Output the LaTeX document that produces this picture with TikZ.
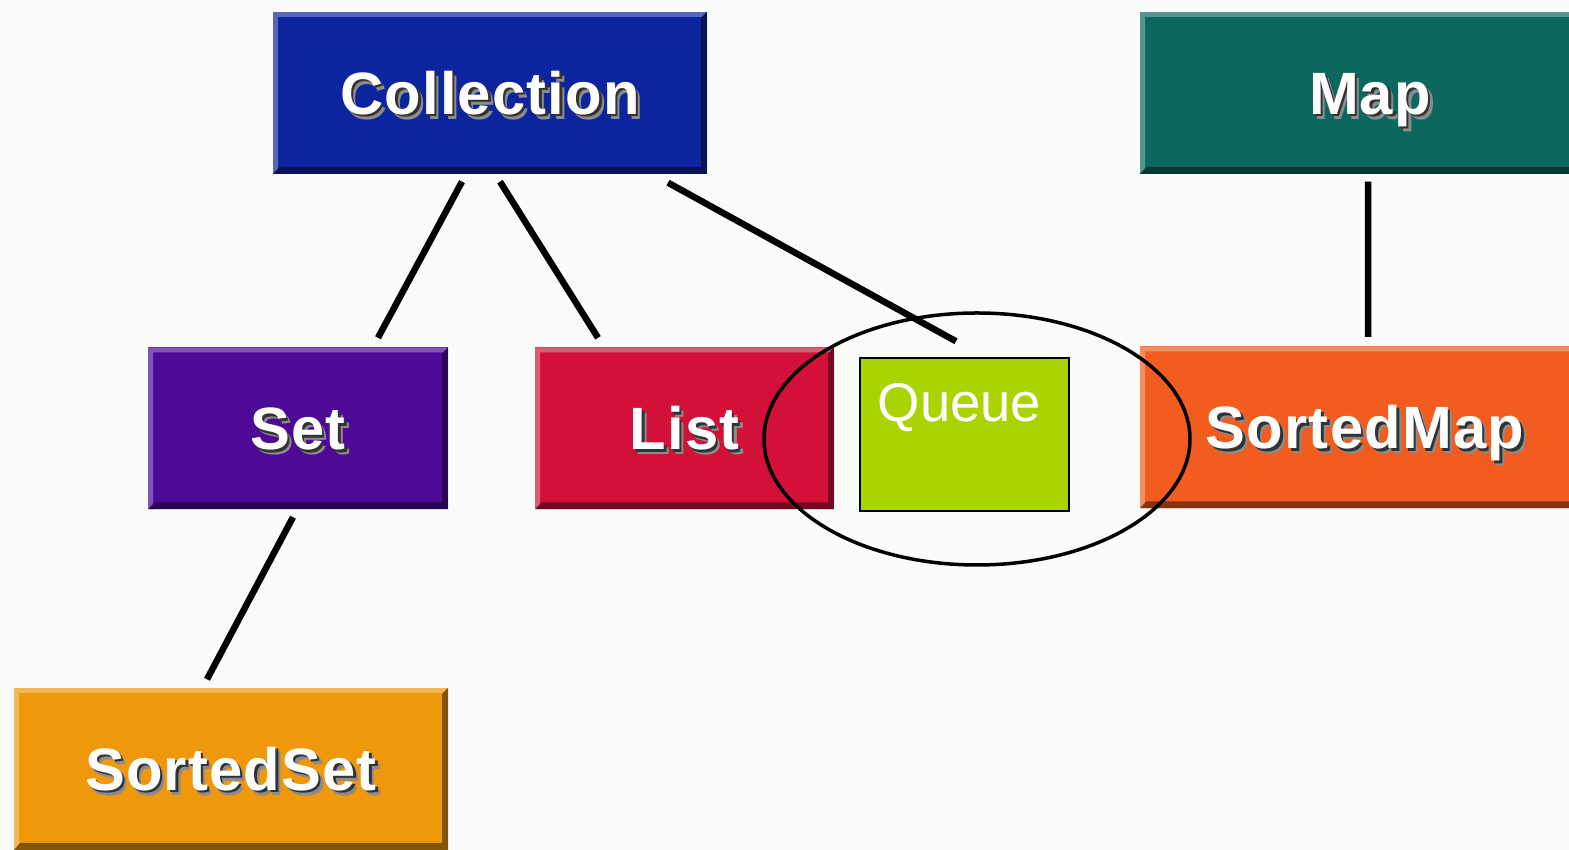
\documentclass[tikz,border=0pt]{standalone}
\usepackage{fontspec}
\setmainfont{Liberation Sans}[BoldFeatures={LetterSpace=2}]

\definecolor{paper}{RGB}{250,252,249}
\definecolor{collblue}{RGB}{12,36,158}
\definecolor{mapteal}{RGB}{12,104,94}
\definecolor{setpurple}{RGB}{76,10,150}
\definecolor{listred}{RGB}{210,16,56}
\definecolor{queuelime}{RGB}{170,212,0}
\definecolor{smaporange}{RGB}{242,92,30}
\definecolor{ssetamber}{RGB}{240,152,12}

% white label with a dark shadow
\newcommand{\glowtext}[1]{%
  \makebox[0pt][l]{\hspace{1.3pt}\raisebox{-1.3pt}{\color{black!45}#1}}%
  \makebox[0pt][l]{\hspace{0.7pt}\raisebox{-0.7pt}{\color{black!80}#1}}%
  {\color{white}#1}}

\tikzset{
  ifacebox/.style={rectangle, fill=#1, minimum height=1.62cm, inner sep=0pt,
    font=\bfseries\fontsize{17}{20}\selectfont, text height=0.43cm, text depth=0pt,
    path picture={
      \fill[white,opacity=0.3] (path picture bounding box.south west)
        -- (path picture bounding box.north west) -- (path picture bounding box.north east)
        -- ([shift={(-0.05,-0.05)}]path picture bounding box.north east)
        -- ([shift={(0.05,-0.05)}]path picture bounding box.north west)
        -- ([shift={(0.05,0.05)}]path picture bounding box.south west) -- cycle;
      \fill[black,opacity=0.45] (path picture bounding box.south west)
        -- (path picture bounding box.south east) -- (path picture bounding box.north east)
        -- ([shift={(-0.06,-0.06)}]path picture bounding box.north east)
        -- ([shift={(-0.06,0.07)}]path picture bounding box.south east)
        -- ([shift={(0.06,0.07)}]path picture bounding box.south west) -- cycle;
    }},
  link/.style={line width=0.065cm, black},
}

\begin{document}
\begin{tikzpicture}
  \fill[paper] (0,0) rectangle (15.69,-8.5);
  \useasboundingbox (0,0) rectangle (15.69,-8.5);
  \clip (0,0) rectangle (15.69,-8.5);

  % interface boxes
  \node[ifacebox=collblue, minimum width=4.34cm] (coll) at (4.90,-0.93) {\glowtext{Collection}};
  \node[ifacebox=mapteal, minimum width=4.60cm] (map) at (13.70,-0.93) {\glowtext{Map}};
  \node[ifacebox=setpurple, minimum width=3.00cm] (set) at (2.98,-4.285) {\glowtext{Set}};
  \node[ifacebox=listred, minimum width=2.99cm] (list) at (6.845,-4.285) {\glowtext{List}};
  \node[ifacebox=smaporange, minimum width=4.50cm] (smap) at (13.65,-4.275) {\glowtext{SortedMap}};
  \node[ifacebox=ssetamber, minimum width=4.34cm] (sset) at (2.31,-7.69) {\glowtext{SortedSet}};

  \node[draw=black, line width=0.4pt, fill=queuelime, minimum width=2.09cm, minimum height=1.53cm,
        inner sep=0pt] (queue) at (9.645,-4.345) {};
  \node[anchor=base, text=white, font=\fontsize{15.5}{18}\selectfont, inner sep=0pt]
        (qlabel) at ([xshift=-0.05cm,yshift=-0.64cm]queue.north) {Queue};

  % links
  \draw[link] ([xshift=-0.28cm,yshift=-0.07cm]coll.south) -- ([xshift=0.80cm,yshift=0.09cm]set.north);
  \draw[link] ([xshift=0.10cm,yshift=-0.07cm]coll.south) -- ([xshift=-0.865cm,yshift=0.09cm]list.north);
  \draw[link] ([xshift=1.78cm,yshift=-0.08cm]coll.south) -- ([xshift=-0.085cm,yshift=0.16cm]queue.north);
  \draw[link] ([xshift=-0.02cm,yshift=-0.07cm]map.south) -- ([xshift=0.03cm,yshift=0.09cm]smap.north);
  \draw[link] ([xshift=-0.05cm,yshift=-0.07cm]set.south) -- ([xshift=-0.24cm,yshift=0.08cm]sset.north);

  % highlight
  \draw[line width=0.035cm, black] ([xshift=0.125cm,yshift=-0.045cm]queue.center) ellipse [x radius=2.13cm, y radius=1.26cm];
\end{tikzpicture}
\end{document}
